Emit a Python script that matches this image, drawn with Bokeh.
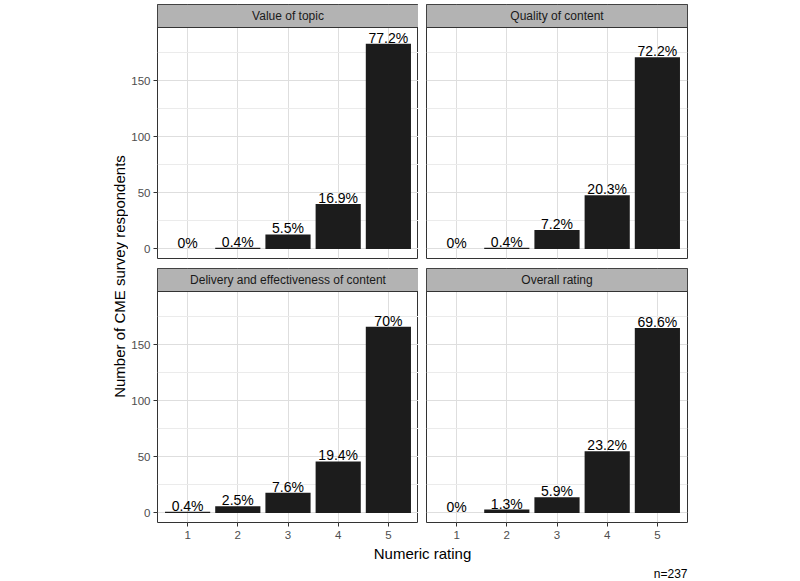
import math
from bokeh.plotting import figure
from bokeh.layouts import row, column
from bokeh.models import Range1d, FixedTicker, Label
from bokeh.embed import file_html
from bokeh.resources import INLINE
from bokeh.core.properties import value

# ---------------- data ----------------
ratings = [1, 2, 3, 4, 5]
facet_titles = ["Value of topic", "Quality of content",
                "Delivery and effectiveness of content", "Overall rating"]
value_of_topic = [0, 1, 13, 40, 183]
quality_of_content = [0, 1, 17, 48, 171]
delivery_effectiveness = [1, 6, 18, 46, 166]
overall_rating = [0, 3, 14, 55, 165]
value_pct = ["0%", "0.4%", "5.5%", "16.9%", "77.2%"]
quality_pct = ["0%", "0.4%", "7.2%", "20.3%", "72.2%"]
delivery_pct = ["0.4%", "2.5%", "7.6%", "19.4%", "70%"]
overall_pct = ["0%", "1.3%", "5.9%", "23.2%", "69.6%"]
y_ticks = [0, 50, 100, 150]
y_minor_ticks = [25, 75, 125, 175]
x_title = "Numeric rating"
y_title = "Number of CME survey respondents"
caption = "n=237"

# ---------------- style ----------------
FONT = "Liberation Sans"
Y_LO, Y_HI = -8.5, 197.5
X_LO, X_HI = 0.4, 5.6
STRIP_PX = 23
DATA_H = 231
FRAME_W = 261
Y_STRIP_TOP = Y_HI + STRIP_PX * (Y_HI - Y_LO) / DATA_H


def make_panel(title, counts, labels, show_y, show_x):
    p = figure(frame_width=FRAME_W, frame_height=DATA_H + STRIP_PX,
               x_range=Range1d(X_LO, X_HI), y_range=Range1d(Y_LO, Y_STRIP_TOP),
               output_backend="svg", toolbar_location=None,
               min_border_left=29 if show_y else 8,
               min_border_right=0 if show_y else 6,
               min_border_top=0, min_border_bottom=21 if show_x else 10,
               background_fill_color="white", border_fill_color="white",
               outline_line_color="#333333", outline_line_width=1)
    p.xaxis.ticker = FixedTicker(ticks=ratings)
    p.yaxis.ticker = FixedTicker(ticks=y_ticks, minor_ticks=y_minor_ticks)
    for ax in (p.xaxis, p.yaxis):
        ax.axis_line_color = None
        ax.major_tick_line_color = "#333333"
        ax.major_tick_out = 4
        ax.major_tick_in = 0
        ax.minor_tick_out = 0
        ax.minor_tick_in = 0
        ax.major_label_text_color = "#4D4D4D"
        ax.major_label_text_font = FONT
        ax.major_label_text_font_size = "11.5px"
        ax.major_label_standoff = 3
    p.xaxis.major_label_standoff = 4
    p.xaxis.visible = show_x
    p.yaxis.visible = show_y
    p.xgrid.ticker = FixedTicker(ticks=ratings)
    p.ygrid.ticker = FixedTicker(ticks=y_ticks, minor_ticks=y_minor_ticks)
    p.xgrid.grid_line_color = "#DEDEDE"
    p.ygrid.grid_line_color = "#DEDEDE"
    p.ygrid.minor_grid_line_color = "#EBEBEB"
    p.xgrid.grid_line_width = 1
    p.ygrid.grid_line_width = 1

    # bars
    p.vbar(x=ratings, top=counts, width=0.9, fill_color="#1C1C1C",
           line_color=None)
    # labels
    p.text(x=ratings, y=counts, text=labels, text_align="center",
           text_baseline="bottom", y_offset=2,
           text_font=value(FONT), text_font_size="14px", text_color="black")
    # strip
    p.quad(left=[X_LO], right=[X_HI], bottom=[Y_HI], top=[Y_STRIP_TOP],
           fill_color="#B3B3B3", line_color="#333333", line_width=1)
    p.text(x=[(X_LO + X_HI) / 2], y=[(Y_HI + Y_STRIP_TOP) / 2], text=[title],
           text_align="center", text_baseline="middle",
           text_font=value(FONT), text_font_size="12px", text_color="#1A1A1A")
    return p


p1 = make_panel(facet_titles[0], value_of_topic, value_pct, True, False)
p2 = make_panel(facet_titles[1], quality_of_content, quality_pct, False, False)
p3 = make_panel(facet_titles[2], delivery_effectiveness, delivery_pct, True, True)
p4 = make_panel(facet_titles[3], overall_rating, overall_pct, False, True)

# y-axis title panel
YT_W, YT_H = 120, 576
yt = figure(width=YT_W, height=YT_H, x_range=Range1d(0, YT_W), y_range=Range1d(YT_H, 0),
            x_axis_location=None, y_axis_location=None, min_border=0,
            output_backend="svg", toolbar_location=None,
            outline_line_color=None, background_fill_color="white",
            border_fill_color="white")
yt.grid.visible = False
yt.add_layout(Label(x=111, y=272, text=y_title, angle=math.pi / 2,
                    text_align="center", text_baseline="middle",
                    text_font=FONT, text_font_size="15px", text_color="black"))

# bottom titles panel
BT_W, BT_H = 565, 37
bt = figure(width=BT_W, height=BT_H, x_range=Range1d(0, BT_W), y_range=Range1d(BT_H, 0),
            x_axis_location=None, y_axis_location=None, min_border=0,
            output_backend="svg", toolbar_location=None,
            outline_line_color=None, background_fill_color="white",
            border_fill_color="white")
bt.grid.visible = False
bt.add_layout(Label(x=294, y=10, text=x_title, text_align="center",
                    text_baseline="middle", text_font=FONT,
                    text_font_size="15px", text_color="black"))
bt.add_layout(Label(x=559, y=30, text=caption, text_align="right",
                    text_baseline="middle", text_font=FONT,
                    text_font_size="12px", text_color="black"))

root = row(yt, column(row(p1, p2), row(p3, p4), bt), margin=(4, 0, 0, 8))

open("out.html", "w").write(file_html(root, INLINE))
